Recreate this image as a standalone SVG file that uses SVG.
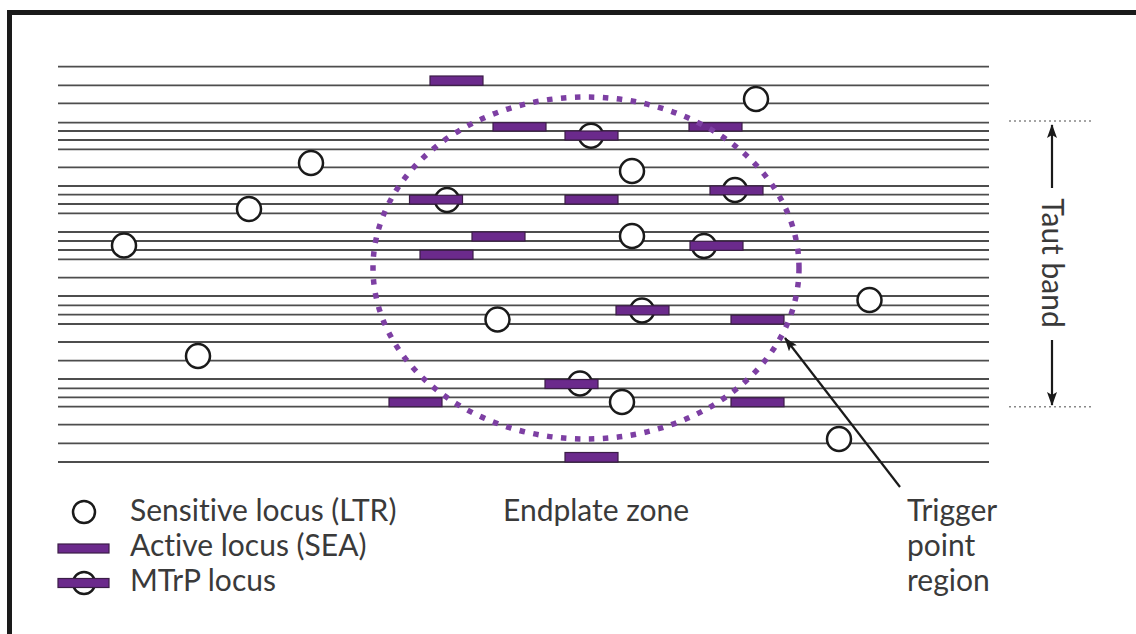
<svg xmlns="http://www.w3.org/2000/svg" width="1136" height="634" viewBox="0 0 1136 634">
<defs>
<style>
.fib{stroke:#4d4d4d;stroke-width:1.8;fill:none}
.ltr{fill:#fff;stroke:#1a1a1a;stroke-width:2.5}
.sea{fill:#6b2a8c;stroke:#3b1d47;stroke-width:1.2}
.zone{fill:none;stroke:#7d3fa3;stroke-width:5.5;stroke-dasharray:5.5 8.5}
.lbl{font-family:Lato,"Liberation Sans",sans-serif;font-size:30px;fill:#3a3a3a;font-variant-ligatures:none}
.band{stroke:#888;stroke-width:1.5;stroke-dasharray:2 3}
.arr{stroke:#1a1a1a;stroke-width:2.2;fill:none}
</style>
<marker id="ah" viewBox="0 0 14 10" refX="13" refY="5" markerWidth="14" markerHeight="10" markerUnits="userSpaceOnUse" orient="auto">
<path d="M0,0 L14,5 L0,10 L3,5 z" fill="#1a1a1a"/>
</marker>
</defs>
<rect width="1136" height="634" fill="#fff"/>
<path d="M9.5,640 V12.5 H1140" fill="none" stroke="#1a1a1a" stroke-width="5"/>

<g id="fibres">
<line class="fib" x1="58" x2="989" y1="66.7" y2="66.7"/>
<line class="fib" x1="58" x2="989" y1="85.3" y2="85.3"/>
<line class="fib" x1="58" x2="989" y1="103.3" y2="103.3"/>
<line class="fib" x1="58" x2="989" y1="122.7" y2="122.7"/>
<line class="fib" x1="58" x2="989" y1="131" y2="131"/>
<line class="fib" x1="58" x2="989" y1="140" y2="140"/>
<line class="fib" x1="58" x2="989" y1="149.3" y2="149.3"/>
<line class="fib" x1="58" x2="989" y1="167.3" y2="167.3"/>
<line class="fib" x1="58" x2="989" y1="186" y2="186"/>
<line class="fib" x1="58" x2="989" y1="194.7" y2="194.7"/>
<line class="fib" x1="58" x2="989" y1="204" y2="204"/>
<line class="fib" x1="58" x2="989" y1="213.3" y2="213.3"/>
<line class="fib" x1="58" x2="989" y1="232" y2="232"/>
<line class="fib" x1="58" x2="989" y1="241" y2="241"/>
<line class="fib" x1="58" x2="989" y1="250" y2="250"/>
<line class="fib" x1="58" x2="989" y1="259.3" y2="259.3"/>
<line class="fib" x1="58" x2="989" y1="277.7" y2="277.7"/>
<line class="fib" x1="58" x2="989" y1="296" y2="296"/>
<line class="fib" x1="58" x2="989" y1="305.3" y2="305.3"/>
<line class="fib" x1="58" x2="989" y1="314.7" y2="314.7"/>
<line class="fib" x1="58" x2="989" y1="324" y2="324"/>
<line class="fib" x1="58" x2="989" y1="342" y2="342"/>
<line class="fib" x1="58" x2="989" y1="360.7" y2="360.7"/>
<line class="fib" x1="58" x2="989" y1="379" y2="379"/>
<line class="fib" x1="58" x2="989" y1="388.3" y2="388.3"/>
<line class="fib" x1="58" x2="989" y1="397.3" y2="397.3"/>
<line class="fib" x1="58" x2="989" y1="406.7" y2="406.7"/>
<line class="fib" x1="58" x2="989" y1="424.7" y2="424.7"/>
<line class="fib" x1="58" x2="989" y1="443.3" y2="443.3"/>
<line class="fib" x1="58" x2="989" y1="462" y2="462"/>
</g>

<g id="sensitive-loci">
<circle class="ltr" cx="124" cy="245.5" r="12"/>
<circle class="ltr" cx="249" cy="209" r="12"/>
<circle class="ltr" cx="311" cy="163" r="12"/>
<circle class="ltr" cx="198" cy="356" r="12"/>
<circle class="ltr" cx="497.5" cy="319.5" r="12"/>
<circle class="ltr" cx="756" cy="99" r="12"/>
<circle class="ltr" cx="632" cy="171" r="12"/>
<circle class="ltr" cx="632" cy="236" r="12"/>
<circle class="ltr" cx="622" cy="402" r="12"/>
<circle class="ltr" cx="869.5" cy="300" r="12"/>
<circle class="ltr" cx="839" cy="439" r="12"/>
</g>

<g id="active-loci">
<rect class="sea" x="430" y="76" width="53" height="9.3"/>
<rect class="sea" x="493" y="122.7" width="53" height="8.3"/>
<rect class="sea" x="689" y="122.7" width="53" height="8.3"/>
<rect class="sea" x="565" y="195.3" width="53" height="8.7"/>
<rect class="sea" x="472" y="232" width="53" height="9"/>
<rect class="sea" x="420" y="250.3" width="53" height="9"/>
<rect class="sea" x="731" y="315.3" width="53" height="8.7"/>
<rect class="sea" x="389" y="397.8" width="53" height="8.9"/>
<rect class="sea" x="731" y="397.8" width="53" height="8.9"/>
<rect class="sea" x="565" y="452.5" width="53" height="9.5"/>
</g>

<g id="mtrp-loci">
<circle class="ltr" cx="591" cy="135.7" r="12"/>
<rect class="sea" x="565" y="131" width="53" height="9"/>
<circle class="ltr" cx="447" cy="200" r="12"/>
<rect class="sea" x="409.5" y="195.3" width="53" height="8.7"/>
<circle class="ltr" cx="735" cy="190" r="12"/>
<rect class="sea" x="710" y="186" width="53" height="8.7"/>
<circle class="ltr" cx="704" cy="246" r="12"/>
<rect class="sea" x="690" y="241.3" width="53" height="9"/>
<circle class="ltr" cx="642" cy="310.5" r="12"/>
<rect class="sea" x="616" y="305.8" width="53" height="9"/>
<circle class="ltr" cx="580" cy="383.5" r="12"/>
<rect class="sea" x="545" y="379.5" width="53" height="9"/>
</g>

<g id="endplate-zone">
<ellipse class="zone" cx="586" cy="268" rx="213" ry="171"/>
<text class="lbl" x="503" y="521">Endplate zone</text>
</g>

<g id="taut-band">
<line class="band" x1="1009" y1="121" x2="1091" y2="121"/>
<line class="band" x1="1009" y1="406.7" x2="1091" y2="406.7"/>
<text class="lbl" transform="translate(1042,263) rotate(90)" text-anchor="middle">Taut band</text>
</g>

<g id="trigger-label">
<text class="lbl" x="907" y="521">Trigger</text>
<text class="lbl" x="907" y="556">point</text>
<text class="lbl" x="907" y="591">region</text>
</g>

<g id="connectors">
<line class="arr" x1="1052" y1="188" x2="1052" y2="125" marker-end="url(#ah)"/>
<line class="arr" x1="1052" y1="340" x2="1052" y2="405" marker-end="url(#ah)"/>
<line class="arr" x1="900" y1="487" x2="785" y2="338" marker-end="url(#ah)"/>
</g>

<g id="legend">
<circle class="ltr" cx="84" cy="512" r="11"/>
<text class="lbl" x="130" y="521">Sensitive locus (LTR)</text>
<rect class="sea" x="58" y="544" width="51" height="9"/>
<text class="lbl" x="130" y="556">Active locus (SEA)</text>
<circle class="ltr" cx="84" cy="583" r="11"/>
<rect class="sea" x="58" y="578.5" width="51" height="9"/>
<text class="lbl" x="130" y="591">MTrP locus</text>
</g>
</svg>
